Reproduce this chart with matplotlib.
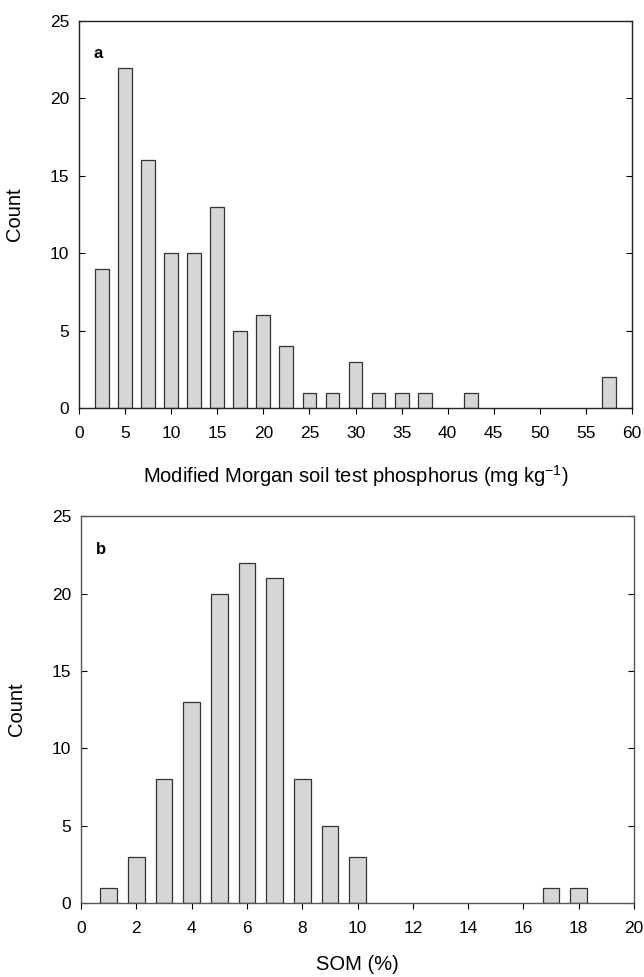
import matplotlib.pyplot as plt
import numpy as np

plt.rcParams['font.family'] = ['Liberation Sans', 'DejaVu Sans']
plt.rcParams['mathtext.fontset'] = 'custom'
plt.rcParams['mathtext.rm'] = 'Liberation Sans'

# Panel a: Modified Morgan soil test P histogram
p_bins = [2.5, 5, 7.5, 10, 12.5, 15, 17.5, 20, 22.5, 25, 27.5, 30, 32.5, 35, 37.5, 42.5, 57.5]
p_counts = [9, 22, 16, 10, 10, 13, 5, 6, 4, 1, 1, 3, 1, 1, 1, 1, 2]

# Panel b: SOM histogram
som_bins = [1, 2, 3, 4, 5, 6, 7, 8, 9, 10, 17, 18]
som_counts = [1, 3, 8, 13, 20, 22, 21, 8, 5, 3, 1, 1]

fig = plt.figure(figsize=(6.44, 9.77), dpi=100)
ax1 = fig.add_axes([0.1227, 0.5824, 0.8587, 0.396])
ax2 = fig.add_axes([0.1258, 0.0757, 0.8587, 0.396])

bar_face = '#d5d6d8'
bar_edge = '#333333'

ax1.bar(p_bins, p_counts, width=1.5, color=bar_face, edgecolor=bar_edge, linewidth=0.9)
ax2.bar(som_bins, som_counts, width=0.6, color=bar_face, edgecolor=bar_edge, linewidth=0.9)

for ax, spine_col in ((ax1, '#222222'), (ax2, '#555555')):
    ax.set_ylim(0, 25)
    ax.set_yticks(np.arange(0, 26, 5))
    ax.set_ylabel('Count', fontsize=14.5)
    ax.yaxis.set_label_coords(-0.10, 0.5)
    ax.tick_params(axis='x', labelsize=12.5, length=4, width=0.8, direction='out', pad=9)
    ax.tick_params(axis='y', labelsize=12.5, length=4, width=0.8, direction='in',
                   right=True, pad=7)
    for side in ['top', 'right', 'left', 'bottom']:
        ax.spines[side].set_linewidth(1.0)
        ax.spines[side].set_color(spine_col)

ax1.set_xlim(0, 60)
ax1.set_xticks(np.arange(0, 61, 5))
ax1.set_xlabel('Modified Morgan soil test phosphorus (mg kg$^{\\mathregular{-1}}$)', fontsize=14.5)
ax1.xaxis.set_label_coords(0.5, -0.142)
ax1.text(0.027, 0.915, 'a', transform=ax1.transAxes, fontsize=12, fontweight='bold', va='center')

ax2.set_xlim(0, 20)
ax2.set_xticks(np.arange(0, 21, 2))
ax2.set_xlabel('SOM (%)', fontsize=14.5)
ax2.xaxis.set_label_coords(0.5, -0.135)
ax2.text(0.027, 0.915, 'b', transform=ax2.transAxes, fontsize=12, fontweight='bold', va='center')

fig.savefig('out.png', dpi=100)
